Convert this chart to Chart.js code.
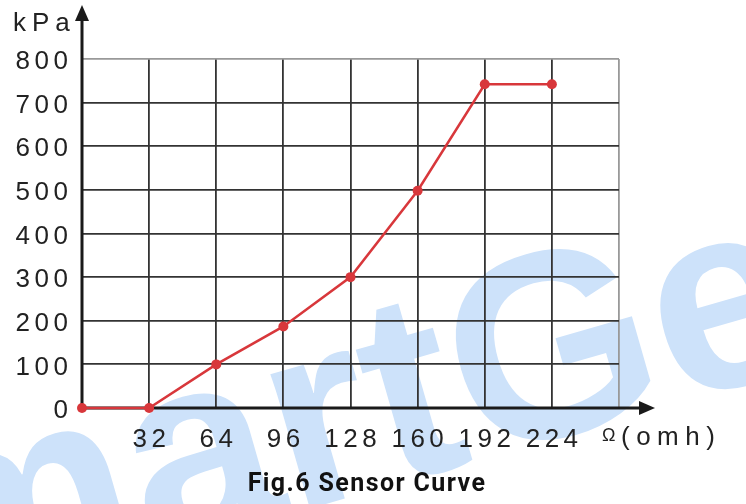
<!DOCTYPE html>
<html>
<head>
<meta charset="utf-8">
<script src="https://cdn.jsdelivr.net/npm/chart.js@4/dist/chart.umd.min.js"></script>
<style>
html,body{margin:0;padding:0;background:#fff;}
#wrap{width:746px;height:504px;position:relative;}
</style>
</head>
<body>
<div id="wrap"><canvas id="c" width="746" height="504"></canvas></div>
<script>
const resistance = [0, 32, 64, 96, 128, 160, 192, 224];
const pressure = [0, 0, 100, 187, 300, 498, 742, 742];
const xTicks = [32, 64, 96, 128, 160, 192, 224];
const yTicks = [0, 100, 200, 300, 400, 500, 600, 700, 800];
const yUnit = 'kPa';
const xUnitSymbol = 'Ω';
const xUnit = '(omh)';
const caption = 'Fig.6 Sensor Curve';
const watermark = 'SmartGen';

const LS = 4.5;
const FAM = '"Liberation Sans", Arial';
const tickFont = {family: FAM, size: 26};

const extras = {
  id: 'extras',
  beforeDraw(chart) {
    const ctx = chart.ctx;
    ctx.save();
    ctx.fillStyle = '#fff';
    ctx.fillRect(0, 0, chart.width, chart.height);
    ctx.translate(-246, 668);
    ctx.rotate(-16 * Math.PI / 180);
    ctx.font = 'bold 265px "Liberation Sans", Arial';
    ctx.fillStyle = '#cde2fa';
    ctx.textBaseline = 'alphabetic';
    ctx.textAlign = 'left';
    ctx.fillText(watermark, 0, 0);
    ctx.restore();
    ctx.letterSpacing = LS + 'px';
  },
  beforeDatasetsDraw(chart) {
    const ctx = chart.ctx;
    const xs = chart.scales.x, ys = chart.scales.y;
    const x0 = xs.getPixelForValue(0), y0 = ys.getPixelForValue(0);
    ctx.save();
    ctx.strokeStyle = '#1a1a1a';
    ctx.fillStyle = '#1a1a1a';
    ctx.lineWidth = 3;
    ctx.beginPath();
    ctx.moveTo(x0, y0 + 1.5);
    ctx.lineTo(x0, 18);
    ctx.moveTo(x0 - 1.5, y0);
    ctx.lineTo(642, y0);
    ctx.stroke();
    ctx.beginPath();
    ctx.moveTo(x0, 5);
    ctx.lineTo(x0 - 7, 21);
    ctx.lineTo(x0 + 7, 21);
    ctx.closePath();
    ctx.fill();
    ctx.beginPath();
    ctx.moveTo(655, y0);
    ctx.lineTo(639, y0 - 7);
    ctx.lineTo(639, y0 + 7);
    ctx.closePath();
    ctx.fill();
    ctx.restore();
  },
  afterDraw(chart) {
    const ctx = chart.ctx;
    ctx.save();
    ctx.fillStyle = '#222';
    ctx.textBaseline = 'middle';
    ctx.textAlign = 'left';
    ctx.letterSpacing = '6px';
    ctx.font = '26px ' + FAM;
    ctx.fillText(yUnit, 13, 24);
    ctx.letterSpacing = '0px';
    ctx.font = '18px ' + FAM;
    ctx.fillText(xUnitSymbol, 602, 436);
    ctx.letterSpacing = '6.5px';
    ctx.font = '26px ' + FAM;
    ctx.fillText(xUnit, 621, 438);
    ctx.letterSpacing = '1.4px';
    ctx.fillStyle = '#111';
    ctx.textAlign = 'center';
    ctx.font = 'bold 25px Roboto';
    ctx.fillText(caption, 367, 485);
    ctx.restore();
  }
};

new Chart(document.getElementById('c'), {
  type: 'line',
  data: {
    datasets: [{
      data: resistance.map((r, i) => ({x: r, y: pressure[i]})),
      borderColor: '#d8373b',
      backgroundColor: '#d8373b',
      borderWidth: 2.5,
      pointRadius: 5,
      pointHoverRadius: 5,
      pointBorderWidth: 0,
      tension: 0,
      clip: false
    }]
  },
  options: {
    responsive: false,
    animation: false,
    events: [],
    layout: {padding: {left: 0, right: 127, top: 59, bottom: 0}},
    plugins: {legend: {display: false}, tooltip: {enabled: false}, title: {display: false}},
    scales: {
      x: {
        type: 'linear', min: 0, max: 256,
        afterFit(s) { s.height = 96; },
        afterBuildTicks(s) { s.ticks = [0].concat(xTicks, [256]).map(v => ({value: v})); },
        border: {display: false},
        grid: {
          color: c => (c.tick && c.tick.value === 256) ? '#999' : '#333',
          lineWidth: 1.8,
          drawTicks: false
        },
        ticks: {
          padding: 16,
          font: tickFont,
          color: '#222',
          autoSkip: false,
          maxRotation: 0,
          labelOffset: LS / 2,
          callback: v => xTicks.includes(v) ? String(v) : ''
        }
      },
      y: {
        type: 'linear', min: 0, max: 800,
        afterFit(s) { s.width = 82; },
        afterBuildTicks(s) { s.ticks = yTicks.map(v => ({value: v})); },
        border: {display: false},
        grid: {
          color: c => (c.tick && c.tick.value === 800) ? '#999' : '#333',
          lineWidth: 1.8,
          drawTicks: false
        },
        ticks: {
          padding: 14 - LS,
          labelOffset: 3,
          font: tickFont,
          color: '#222',
          autoSkip: false,
          callback: v => String(v)
        }
      }
    }
  },
  plugins: [extras]
});
</script>
</body>
</html>
